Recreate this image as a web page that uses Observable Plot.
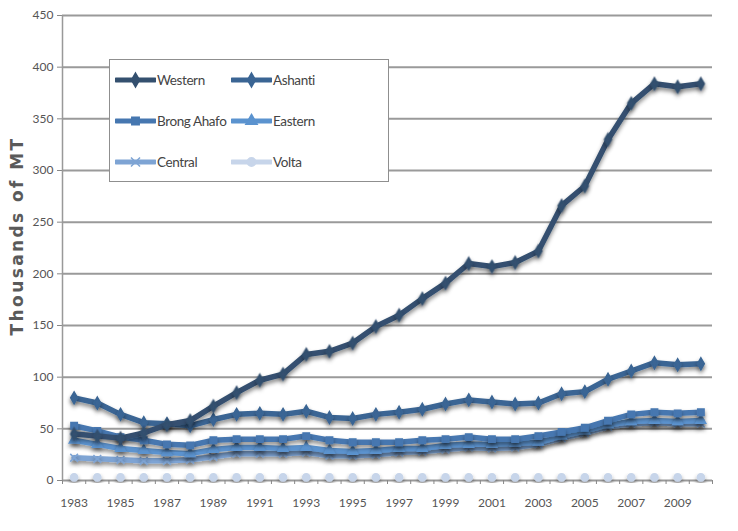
<!DOCTYPE html>
<html><head><meta charset="utf-8">
<script src="https://cdn.jsdelivr.net/npm/d3@7"></script>
<script src="https://cdn.jsdelivr.net/npm/@observablehq/plot@0.6"></script>
<style>
body{margin:0;background:#fff;}
#wrap{position:relative;width:738px;height:531px;}
#legend{position:absolute;left:109px;top:59px;width:280px;height:123px;background:#fff;border:1.5px solid #8f8f8f;box-sizing:border-box;font-family:Lato,sans-serif;font-size:13.5px;letter-spacing:-0.4px;color:#444;}
.item{position:absolute;height:20px;display:flex;align-items:center;}
.item svg{display:block;}
.item span{margin-left:1px;}
</style>
</head><body>
<div id="wrap"><div id="legend"></div></div>
<script>
const years = [1983,1984,1985,1986,1987,1988,1989,1990,1991,1992,1993,1994,1995,1996,1997,1998,1999,2000,2001,2002,2003,2004,2005,2006,2007,2008,2009,2010];
const western    = [45,43,41,46,54,58,72,85,97,103,122,125,133,149,160,176,191,210,207,211,222,266,285,330,365,384,381,384];
const ashanti    = [80,75,64,56,55,53,59,64,65,64,67,61,60,64,66,69,74,78,76,74,75,84,86,98,106,114,112,113];
const brongAhafo = [53,48,42,39,35,34,39,40,40,40,43,39,37,37,37,39,40,42,40,40,43,47,51,58,64,66,65,66];
const eastern    = [39,35,31,29,27,26,30,32,32,31,32,29,28,29,31,31,34,35,35,36,37,43,48,54,57,58,57,58];
const central    = [22,21,20,19,19,20,23,26,26,26,27,24,24,25,27,28,30,32,31,32,35,41,46,52,55,56,55,55];
const volta      = [3,3,3,3,3,3,3,3,3,3,3,3,3,3,3,3,3,3,3,3,3,3,3,3,3,3,3,3];
const seriesNames = ["Western","Ashanti","Brong Ahafo","Eastern","Central","Volta"];
const seriesValues = [western, ashanti, brongAhafo, eastern, central, volta];
const seriesColors = ["#34506f","#3a6594","#4677b0","#5b93cf","#7ea4d4","#c7d5ea"];
const seriesSymbols = ["diamond","diamond","square","triangle","times","circle"];
const xTickLabels = [1983,1985,1987,1989,1991,1993,1995,1997,1999,2001,2003,2005,2007,2009];
const yTicks = [0,50,100,150,200,250,300,350,400,450];

const xDomain = [years[0]-0.5, years[years.length-1]+0.5];
const boundaries = d3.range(years.length+1).map(i => xDomain[0]+i);

const marks = [
  Plot.gridY(yTicks, {stroke:"#9a9a9a", strokeOpacity:1, strokeWidth:2}),
  Plot.axisY(yTicks, {tickSize:5, tickPadding:4, stroke:"#888", label:null, fontSize:12, fill:"#555"}),
  Plot.axisX(boundaries, {tickSize:4, stroke:"#888", tickFormat:()=>"", label:null}),
  Plot.axisX(xTickLabels, {tickSize:0, tickPadding:18, tickFormat:d=>String(d), label:null, fontSize:12, fill:"#555"}),
  Plot.ruleX([xDomain[0]], {stroke:"#999", strokeWidth:1.5})
];
const order = [5,4,3,2,1,0];
for (const k of order) {
  const rows = years.map((y,i)=>({year:y, value:seriesValues[k][i]}));
  marks.push(Plot.line(rows, {x:"year", y:"value", stroke:seriesColors[k], strokeWidth:5.5, strokeLinejoin:"round", strokeLinecap:"round"}));
  marks.push(Plot.dot(rows, {x:"year", y:"value", symbol:()=>seriesSymbols[k], r:3.6, fill:seriesColors[k], stroke:seriesColors[k], strokeWidth:1.5}));
}

const chart = Plot.plot({
  width:738, height:531,
  marginLeft:62, marginRight:26, marginTop:15, marginBottom:51,
  style:{fontFamily:'Lato,sans-serif', color:"#555", background:"#fff"},
  x:{domain:xDomain, axis:null},
  y:{domain:[0,450], axis:null},
  symbol:{type:"identity"},
  marks
});
document.getElementById("wrap").prepend(chart);

const svg = d3.select(chart);
const defs = svg.insert("defs", ":first-child");
const f = defs.append("filter").attr("id","shadow").attr("x","-10%").attr("y","-10%").attr("width","120%").attr("height","130%");
f.append("feDropShadow").attr("dx",0).attr("dy",3).attr("stdDeviation",2).attr("flood-color","#000").attr("flood-opacity",0.45);
svg.selectAll('g[aria-label="line"], g[aria-label="dot"]').attr("filter","url(#shadow)");

svg.append("text")
  .attr("transform","translate(23,236) rotate(-90)")
  .attr("text-anchor","middle")
  .attr("font-family",'"DejaVu Sans",sans-serif')
  .attr("font-weight","bold")
  .attr("font-size",17)
  .attr("letter-spacing",2.4)
  .attr("fill","#5a5a5a")
  .text("Thousands of MT");

// legend
const legend = d3.select("#legend");
const symMap = {diamond:d3.symbolDiamond, square:d3.symbolSquare, triangle:d3.symbolTriangle, times:d3.symbolTimes, circle:d3.symbolCircle};
seriesNames.forEach((name,i)=>{
  const col = i%2, row = Math.floor(i/2);
  const item = legend.append("div").attr("class","item")
    .style("left",(col===0?5:121)+"px").style("top",(10+row*41)+"px");
  const s = item.append("svg").attr("width",41).attr("height",20);
  s.append("line").attr("x1",1).attr("x2",40).attr("y1",10).attr("y2",10)
    .attr("stroke",seriesColors[i]).attr("stroke-width",5).attr("stroke-linecap","round");
  s.append("path").attr("transform","translate(20.5,10)")
    .attr("d",d3.symbol(symMap[seriesSymbols[i]],55)())
    .attr("fill",seriesColors[i]).attr("stroke",seriesColors[i]).attr("stroke-width",1.5);
  item.append("span").text(name);
});
</script>
</body></html>
